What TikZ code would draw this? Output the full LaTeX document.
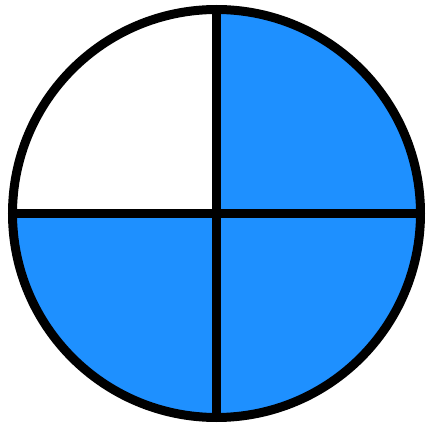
\documentclass[tikz,border=0pt]{standalone}
\definecolor{qblue}{RGB}{30,144,255}
\begin{document}
\begin{tikzpicture}[x=1pt,y=1pt,
  quad/.style={fill=qblue},
  edge/.style={draw=black,line width=9pt}]
\useasboundingbox (0,0) rectangle (426,429);
\coordinate (c) at (216.5,215.5);
\fill[quad] (c) -- ++(0,204) arc[start angle=90,end angle=-180,radius=204pt] -- cycle;
\draw[edge] (c) circle[radius=204pt];
\coordinate (t) at (216.5,419.5);
\coordinate (b) at (216.5,11.5);
\coordinate (l) at (12.5,215.5);
\coordinate (r) at (420.5,215.5);
\draw[edge] (t) -- (b);
\draw[edge] (l) -- (r);
\end{tikzpicture}
\end{document}
